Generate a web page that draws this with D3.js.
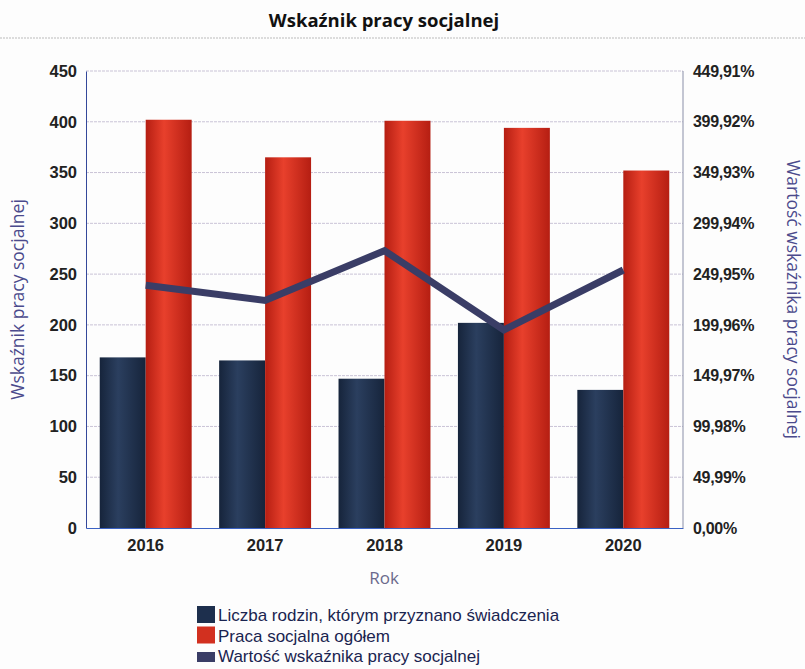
<!DOCTYPE html>
<html>
<head>
<meta charset="utf-8">
<script src="https://cdn.jsdelivr.net/npm/d3@7"></script>
<style>
  body { margin: 0; background: #fdfdfd; }
  svg { font-family: 'Open Sans', sans-serif; }
</style>
</head>
<body>
<script>
// Data
const years = ['2016', '2017', '2018', '2019', '2020']
const families = [168, 165, 147, 202, 136]
const socialWork = [402, 365, 401, 394, 352]
const indicator = [239, 224, 273, 195, 254]
const leftTicks = [0, 50, 100, 150, 200, 250, 300, 350, 400, 450]
const rightTicks = [0, 49.99, 99.98, 149.97, 199.96, 249.95, 299.94, 349.93, 399.92, 449.91]
const seriesNames = [
  'Liczba rodzin, którym przyznano świadczenia',
  'Praca socjalna ogółem',
  'Wartość wskaźnika pracy socjalnej'
]

// Chart settings
const width = 805
const height = 669
const plotLeft = 86
const plotRight = 683
const plotTop = 71
const plotBottom = 528

const navyColor = '#1d2f4d'
const redColor = '#d2301f'
const lineColor = '#3a3d66'
const axisTitleColor = '#4b4a8c'

const svg = d3.select('body')
  .append('svg')
  .attr('width', width)
  .attr('height', height)

// Gradients for cylinder look
const defs = svg.append('defs')
function addGradient(id, edge, mid) {
  const g = defs.append('linearGradient').attr('id', id)
    .attr('x1', '0%').attr('x2', '100%').attr('y1', '0%').attr('y2', '0%')
  g.append('stop').attr('offset', '0%').attr('stop-color', edge)
  g.append('stop').attr('offset', '40%').attr('stop-color', mid)
  g.append('stop').attr('offset', '100%').attr('stop-color', edge)
}
addGradient('navyGrad', '#16243b', '#2b3f5f')
addGradient('redGrad', '#b51e12', '#e8402c')

// Title
svg.append('text')
  .attr('x', 384)
  .attr('y', 27)
  .attr('text-anchor', 'middle')
  .style('font-size', '18.5px')
  .style('font-weight', 'bold')
  .style('fill', '#111')
  .text('Wskaźnik pracy socjalnej')

svg.append('line')
  .attr('x1', 0).attr('x2', width)
  .attr('y1', 38).attr('y2', 38)
  .attr('stroke', '#bbb')
  .attr('stroke-dasharray', '2,1')

// Scales
const xScale = d3.scaleBand()
  .domain(years)
  .range([plotLeft, plotRight])
  .paddingInner(0.23)
  .paddingOuter(0.115)
const yScale = d3.scaleLinear()
  .domain([0, 450])
  .range([plotBottom, plotTop])
const yRight = d3.scaleLinear()
  .domain([0, 449.91])
  .range([plotBottom, plotTop])

// Gridlines
svg.append('g')
  .selectAll('line')
  .data(leftTicks.slice(1))
  .join('line')
  .attr('x1', plotLeft).attr('x2', plotRight)
  .attr('y1', d => yScale(d)).attr('y2', d => yScale(d))
  .attr('stroke', '#c9c3d6')
  .attr('stroke-dasharray', '3,1')

// Right frame
svg.append('line')
  .attr('x1', plotRight).attr('x2', plotRight)
  .attr('y1', plotTop).attr('y2', plotBottom)
  .attr('stroke', '#8a8fa8')

// Bars
const half = xScale.bandwidth() / 2
svg.append('g')
  .selectAll('rect')
  .data(years)
  .join('rect')
  .attr('x', d => xScale(d))
  .attr('y', (d, i) => yScale(families[i]))
  .attr('width', half)
  .attr('height', (d, i) => plotBottom - yScale(families[i]))
  .attr('fill', 'url(#navyGrad)')

svg.append('g')
  .selectAll('rect')
  .data(years)
  .join('rect')
  .attr('x', d => xScale(d) + half)
  .attr('y', (d, i) => yScale(socialWork[i]))
  .attr('width', half)
  .attr('height', (d, i) => plotBottom - yScale(socialWork[i]))
  .attr('fill', 'url(#redGrad)')

// Line
const line = d3.line()
  .x((d, i) => xScale(years[i]) + half)
  .y(d => yRight(d))
svg.append('path')
  .datum(indicator)
  .attr('d', line)
  .attr('fill', 'none')
  .attr('stroke', lineColor)
  .attr('stroke-width', 7)

// Left axis
const leftAxis = svg.append('g')
  .attr('transform', `translate(${plotLeft}, 0)`)
  .call(d3.axisLeft(yScale).tickValues(leftTicks).tickSize(0).tickPadding(9))
leftAxis.select('.domain').attr('stroke', '#34489a')
leftAxis.selectAll('text')
  .style('font-size', '16.5px')
  .style('font-weight', '600')
  .style('fill', '#222')

// Right axis
const rightAxis = svg.append('g')
  .attr('transform', `translate(${plotRight}, 0)`)
  .call(d3.axisRight(yRight)
    .tickValues(rightTicks)
    .tickSize(0)
    .tickPadding(10)
    .tickFormat(d => d.toFixed(2).replace('.', ',') + '%'))
rightAxis.select('.domain').remove()
rightAxis.selectAll('text')
  .style('font-size', '16px')
  .style('font-weight', '600')
  .style('letter-spacing', '-0.3px')
  .style('fill', '#222')

// Bottom axis
const bottomAxis = svg.append('g')
  .attr('transform', `translate(0, ${plotBottom})`)
  .call(d3.axisBottom(xScale).tickSize(0).tickPadding(11))
bottomAxis.select('.domain').attr('stroke', '#3b62c4')
bottomAxis.selectAll('text')
  .style('font-size', '16.5px')
  .style('font-weight', '600')
  .style('fill', '#222')

// Axis titles
svg.append('text')
  .attr('transform', `translate(24, ${(plotTop + plotBottom) / 2}) rotate(-90)`)
  .attr('text-anchor', 'middle')
  .style('font-size', '17.5px')
  .style('fill', axisTitleColor)
  .text('Wskaźnik pracy socjalnej')

svg.append('text')
  .attr('transform', `translate(787, ${(plotTop + plotBottom) / 2}) rotate(90)`)
  .attr('text-anchor', 'middle')
  .style('font-size', '17.5px')
  .style('fill', axisTitleColor)
  .text('Wartość wskaźnika pracy socjalnej')

svg.append('text')
  .attr('x', 384)
  .attr('y', 584)
  .attr('text-anchor', 'middle')
  .style('font-size', '17px')
  .style('fill', '#6b6a8c')
  .text('Rok')

// Legend
const legendColors = [navyColor, redColor, lineColor]
const legend = svg.append('g')
  .attr('transform', 'translate(197, 606)')
legend.selectAll('rect')
  .data(seriesNames)
  .join('rect')
  .attr('x', 0)
  .attr('y', (d, i) => i * 20.5)
  .attr('width', 18)
  .attr('height', (d, i) => i === 2 ? 10 : 17)
  .attr('transform', (d, i) => i === 2 ? 'translate(0, 5)' : null)
  .attr('fill', (d, i) => legendColors[i])
legend.selectAll('text')
  .data(seriesNames)
  .join('text')
  .attr('x', 21)
  .attr('y', (d, i) => i * 20.5 + 15)
  .style('font-family', "'Liberation Sans', Arial, sans-serif")
  .style('font-size', '17px')
  .style('fill', '#1a2450')
  .text(d => d)
</script>
</body>
</html>
